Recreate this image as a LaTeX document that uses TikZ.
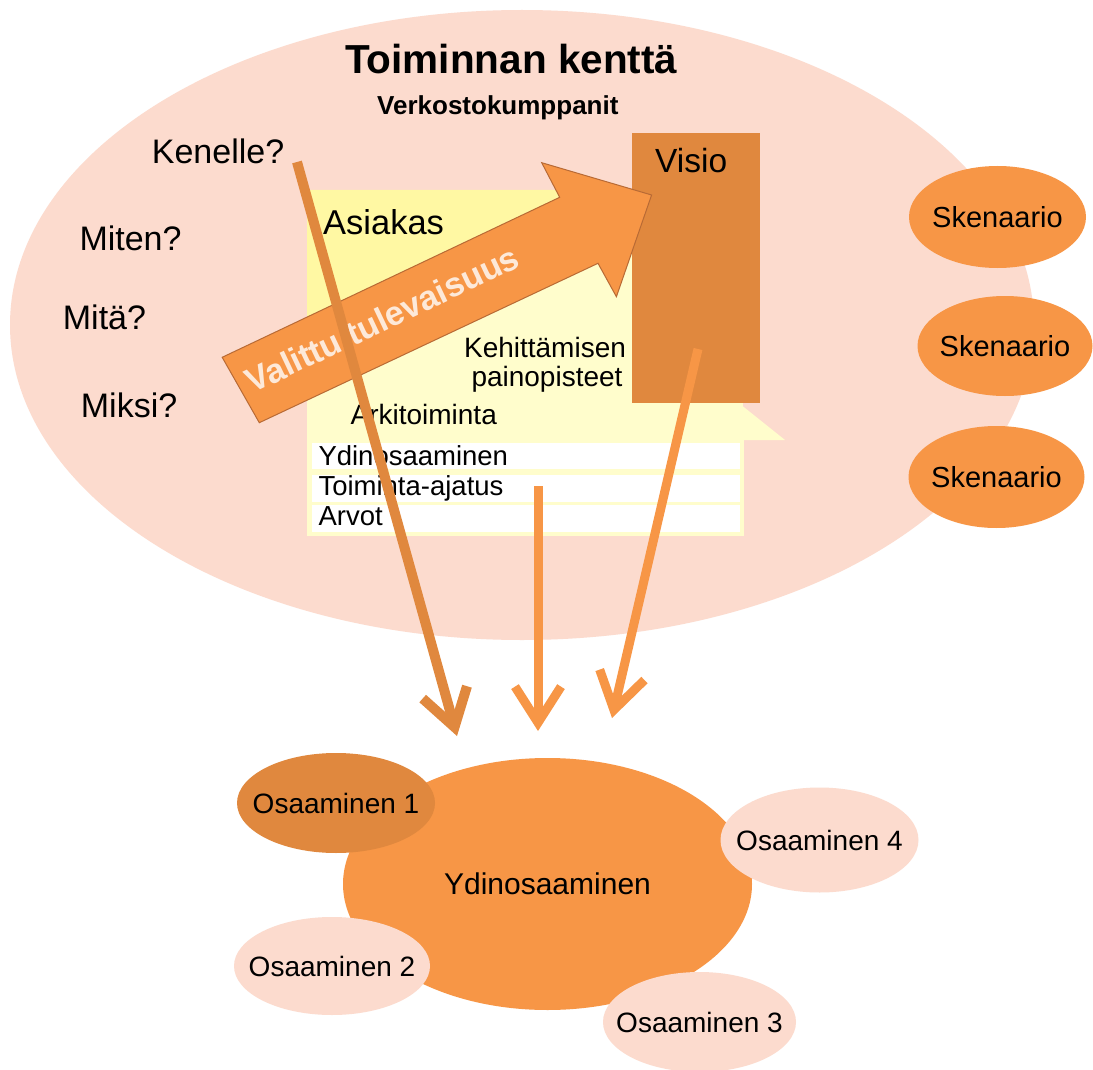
\documentclass[tikz,border=0pt]{standalone}
\usepackage{fontspec}
\setmainfont{Liberation Sans}
\usetikzlibrary{shapes.geometric,arrows.meta}
\definecolor{peach}{HTML}{FCDBCE}
\definecolor{orng}{HTML}{F79646}
\definecolor{dorng}{HTML}{E0883E}
\definecolor{ysat}{HTML}{FFF8A3}
\definecolor{ypale}{HTML}{FFFDCC}
\definecolor{atext}{HTML}{FDE9D9}
\definecolor{aedge}{HTML}{B86A35}
\newcommand{\fsz}[1]{\fontsize{#1}{#1}\selectfont}
\begin{document}
\begin{tikzpicture}[x=1pt,y=-1pt,
  blob/.style={ellipse,inner sep=0pt,draw=none},
  lbl/.style={inner sep=0pt,anchor=base west,text=black},
  conn/.style={line width=9pt,-{Straight Barb[length=36pt,width=46pt]}},
  rowbox/.style={fill=white,draw=none},
]
\useasboundingbox (0,0) rectangle (1093,1070);
\fill[white] (0,0) rectangle (1093,1070);

% field of action
\node[blob,fill=peach,minimum width=1024pt,minimum height=630pt] (field) at (522,325) {};

% scenarios
\node[blob,fill=orng,minimum width=177pt,minimum height=102pt,
  label={[font=\fsz{29}]center:Skenaario}] (sk1) at (997.5,217) {};
\node[blob,fill=orng,minimum width=175pt,minimum height=100pt,
  label={[font=\fsz{29}]center:Skenaario}] (sk2) at (1005,346) {};
\node[blob,fill=orng,minimum width=176pt,minimum height=102pt,
  label={[font=\fsz{29}]center:Skenaario}] (sk3) at (996.5,477) {};

% house
\fill[ypale] (307,190) rectangle (743,440);
\fill[ysat] (307,190) -- (630,190) -- (630,205) -- (307,358) -- cycle;
\fill[ypale] (740,404) -- (785,440) -- (740,440) -- cycle;
\fill[ypale] (307,438) rectangle (744,536);
\fill[rowbox] (312,443) rectangle (740,469);
\fill[rowbox] (312,475) rectangle (740,502);
\fill[rowbox] (312,505) rectangle (740,532);

% vision
\node[fill=dorng,minimum width=128pt,minimum height=270pt,inner sep=0pt,anchor=north west] (visio) at (632,133) {};

% texts
\node[lbl,font=\bfseries\fsz{40.5}] (title) at (345,73.3) {Toiminnan kenttä};
\node[lbl,font=\bfseries\fsz{26}] (verk) at (377,115) {Verkostokumppanit};
\node[lbl,font=\fsz{34}] (kenelle) at (151.7,163.3) {Kenelle?};
\node[lbl,font=\fsz{34}] (miten) at (79.3,250) {Miten?};
\node[lbl,font=\fsz{34}] (mita) at (62.7,329) {Mitä?};
\node[lbl,font=\fsz{34}] (miksi) at (80.7,417.3) {Miksi?};
\node[lbl,font=\fsz{34.5}] (asiakas) at (323,234) {Asiakas};
\node[lbl,font=\fsz{33.5}] (visiot) at (655,173) {Visio};
\node[inner sep=0pt,anchor=base,font=\fsz{28}] (keh1) at (545,357.3) {Kehittämisen};
\node[inner sep=0pt,anchor=base,font=\fsz{28}] (keh2) at (547,386.7) {painopisteet};
\node[lbl,font=\fsz{28}] (arki) at (350.4,424) {Arkitoiminta};
\node[lbl,font=\fsz{27.5}] (ydin) at (318.3,465) {Ydinosaaminen};
\node[lbl,font=\fsz{27.5}] (toim) at (318.3,495) {Toiminta-ajatus};
\node[lbl,font=\fsz{27.5}] (arvot) at (318.3,525) {Arvot};

% chosen future arrow
\draw[fill=orng,draw=aedge,line width=1pt,line join=miter]
  (222.2,357.3) -- (559.7,197.3) -- (541.7,162.7) -- (651.6,195) -- (616.4,296.7)
  -- (598,263.3) -- (259.3,422.7) -- cycle;
\node[font=\bfseries\fsz{34},text=atext,rotate=25.4,inner sep=0pt] (vt) at (382,319) {Valittu tulevaisuus};

% core competence
\node[blob,fill=orng,minimum width=409pt,minimum height=252pt,
  label={[font=\fsz{30}]center:Ydinosaaminen}] (core) at (547.5,884) {};
\node[blob,fill=dorng,minimum width=198pt,minimum height=100pt,
  label={[font=\fsz{28}]center:Osaaminen 1}] (o1) at (336,803) {};
\node[blob,fill=peach,minimum width=198pt,minimum height=105pt,
  label={[font=\fsz{28}]center:Osaaminen 4}] (o4) at (819.5,840) {};
\node[blob,fill=peach,minimum width=196pt,minimum height=98pt,
  label={[font=\fsz{28}]center:Osaaminen 2}] (o2) at (332,966) {};
\node[blob,fill=peach,minimum width=193pt,minimum height=100pt,
  label={[font=\fsz{28}]center:Osaaminen 3}] (o3) at (699.5,1022) {};

% connectors
\coordinate (a1s) at (297,162);
\coordinate (a1e) at (457,736);
\coordinate (a2s) at (538,486);
\coordinate (a2e) at (538,731);
\coordinate (a3s) at (698,349);
\coordinate (a3e) at (612,718);
\draw[conn,draw=dorng,line width=10pt] (a1s) -- (a1e);
\draw[conn,draw=orng] (a2s) -- (a2e);
\draw[conn,draw=orng] (a3s) -- (a3e);
\end{tikzpicture}
\end{document}
